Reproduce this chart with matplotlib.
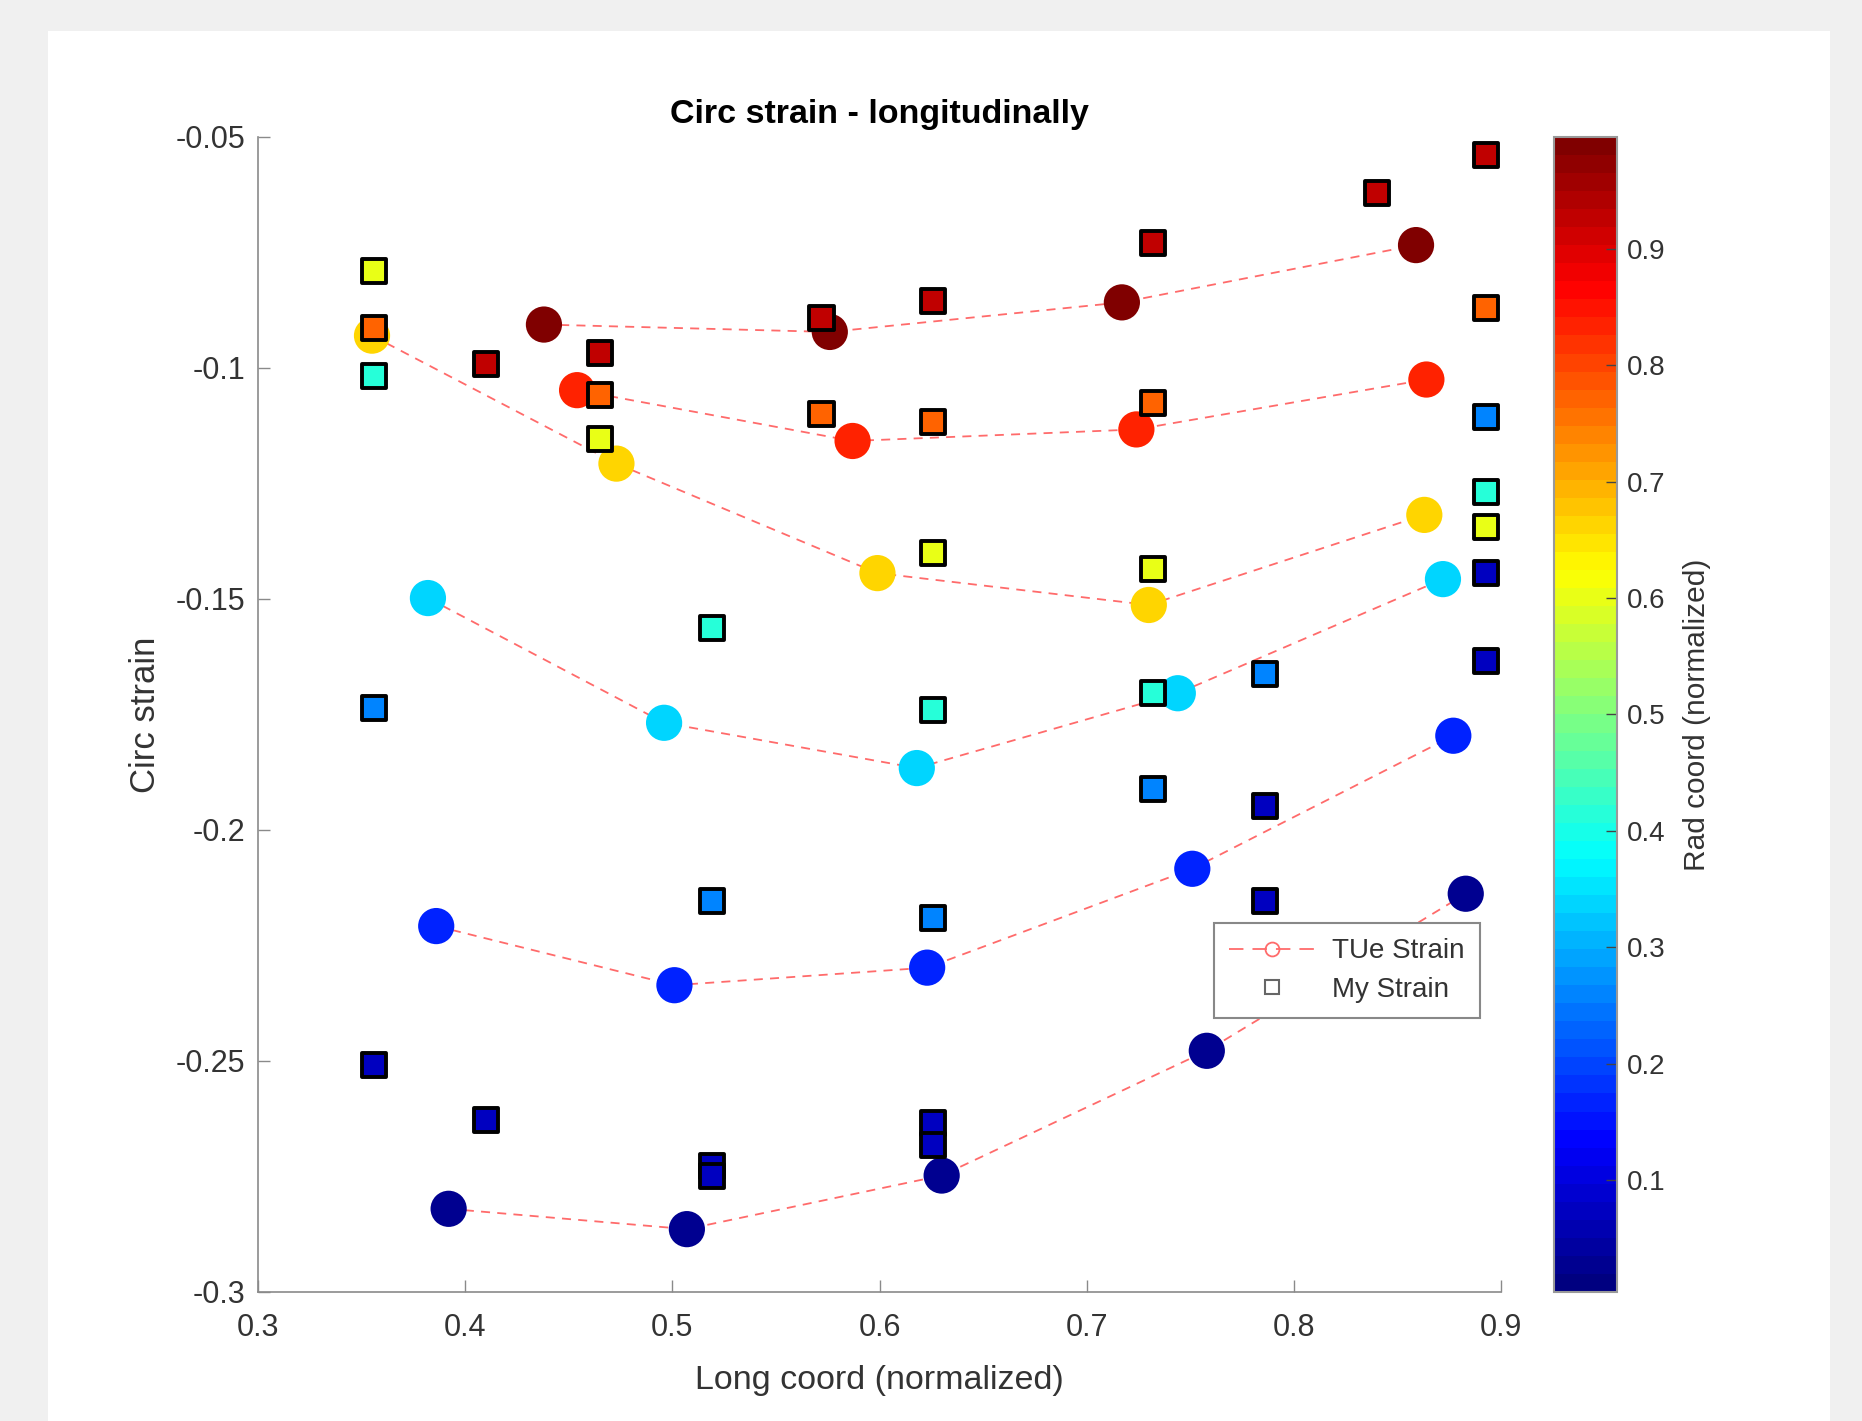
import matplotlib
matplotlib.use('Agg')
import matplotlib.pyplot as plt
from matplotlib.colors import Normalize, LinearSegmentedColormap
from matplotlib.cm import ScalarMappable
from matplotlib.lines import Line2D
from matplotlib.patches import Rectangle

plt.rcParams['font.family'] = ['Liberation Sans', 'DejaVu Sans']

# TUe strain: one dashed curve per radial level
tue_rad = [0.99, 0.84, 0.67, 0.33, 0.17, 0.02]
tue_long = [
    [0.438, 0.576, 0.717, 0.859],
    [0.454, 0.587, 0.724, 0.864],
    [0.355, 0.473, 0.599, 0.730, 0.863],
    [0.382, 0.496, 0.618, 0.744, 0.872],
    [0.386, 0.501, 0.623, 0.751, 0.877],
    [0.392, 0.507, 0.630, 0.758, 0.883],
]
tue_circ = [
    [-0.0906, -0.0922, -0.0858, -0.0734],
    [-0.1048, -0.1158, -0.1133, -0.1025],
    [-0.0930, -0.1207, -0.1444, -0.1513, -0.1318],
    [-0.1498, -0.1768, -0.1866, -0.1704, -0.1457],
    [-0.2208, -0.2336, -0.2298, -0.2084, -0.1796],
    [-0.2820, -0.2864, -0.2748, -0.2478, -0.2138],
]

# my strain, grouped by longitudinal slice
my_long = [0.356] * 5 + [0.410] * 2 + [0.465] * 3 + [0.519] * 4 + [0.572] * 2 \
    + [0.626] * 7 + [0.732] * 5 + [0.786] * 3 + [0.840] * 1 + [0.893] * 7
my_circ = [
    -0.0791, -0.0914, -0.1017, -0.1735, -0.2509,
    -0.0991, -0.2627,
    -0.0968, -0.1058, -0.1153,
    -0.1562, -0.2154, -0.2727, -0.2748,
    -0.0891, -0.1099,
    -0.0855, -0.1117, -0.1400, -0.1740, -0.2190, -0.2635, -0.2681,
    -0.0729, -0.1076, -0.1436, -0.1704, -0.1912,
    -0.1663, -0.1948, -0.2154,
    -0.0621,
    -0.0539, -0.0870, -0.1107, -0.1269, -0.1344, -0.1444, -0.1634,
]
my_rad = [
    0.595, 0.765, 0.42, 0.265, 0.08,
    0.92, 0.08,
    0.92, 0.765, 0.595,
    0.42, 0.265, 0.08, 0.08,
    0.92, 0.765,
    0.92, 0.765, 0.595, 0.42, 0.265, 0.08, 0.08,
    0.92, 0.765, 0.595, 0.42, 0.265,
    0.265, 0.08, 0.08,
    0.92,
    0.92, 0.765, 0.265, 0.42, 0.595, 0.08, 0.08,
]

cbar_ticks = [0.1, 0.2, 0.3, 0.4, 0.5, 0.6, 0.7, 0.8, 0.9]

# MATLAB-style jet, 64 levels
jet_ml = LinearSegmentedColormap.from_list('jet_ml', [
    (0.0, (0, 0, 0.5)), (0.125, (0, 0, 1)), (0.375, (0, 1, 1)),
    (0.625, (1, 1, 0)), (0.875, (1, 0, 0)), (1.0, (0.5, 0, 0))], N=64)
norm = Normalize(0.004, 0.996)
line_col = '#ff6b6b'
grey = '#333333'

fig = plt.figure(figsize=(18.62, 14.21), dpi=100, facecolor='#f0f0f0')
fig.patches.append(Rectangle((48 / 1862, 0), 1782 / 1862, 1390 / 1421,
                             transform=fig.transFigure, facecolor='white',
                             edgecolor='none', zorder=-10))

ax = fig.add_axes([0.1386, 0.0908, 0.6675, 0.8128])
ax.set_facecolor('white')

for xs, ys, r in zip(tue_long, tue_circ, tue_rad):
    ax.plot(xs, ys, color=line_col, lw=1.3, linestyle=(0, (5, 4)), zorder=1)
    ax.scatter(xs, ys, s=680, c=[r] * len(xs), cmap=jet_ml, norm=norm,
               linewidths=0, zorder=2)

ax.scatter(my_long, my_circ, s=300, marker='s', c=my_rad, cmap=jet_ml, norm=norm,
           edgecolors='black', linewidths=2.8, zorder=3)

ax.set_xlim(0.3, 0.9)
ax.set_ylim(-0.3, -0.05)
ax.set_xticks([0.3, 0.4, 0.5, 0.6, 0.7, 0.8, 0.9])
ax.set_xticklabels(['0.3', '0.4', '0.5', '0.6', '0.7', '0.8', '0.9'])
ax.set_yticks([-0.3, -0.25, -0.2, -0.15, -0.1, -0.05])
ax.set_yticklabels(['-0.3', '-0.25', '-0.2', '-0.15', '-0.1', '-0.05'])
ax.spines['top'].set_visible(False)
ax.spines['right'].set_visible(False)
for s in ['left', 'bottom']:
    ax.spines[s].set_color('#8a8a8a')
    ax.spines[s].set_linewidth(1.2)
ax.tick_params(direction='in', length=8.5, width=1, color='#8a8a8a',
               labelsize=22, labelcolor=grey, pad=9)
ax.tick_params(axis='x', pad=15)

ax.set_title('Circ strain - longitudinally', fontsize=24.5, fontweight='bold',
             color='black', pad=10)
ax.set_xlabel('Long coord (normalized)', fontsize=24.5, color=grey)
ax.xaxis.set_label_coords(0.5, -0.063)
ax.set_ylabel('Circ strain', fontsize=25, color=grey)
ax.yaxis.set_label_coords(-0.077, 0.5)

handles = [
    Line2D([], [], color=line_col, lw=1.3, linestyle=(0, (8, 5)), marker='o',
           mfc='none', mec=line_col, ms=10, mew=1.3),
    Line2D([], [], linestyle='none', marker='s', mfc='none', mec='#666666',
           ms=10, mew=1.5),
]
leg = ax.legend(handles, ['TUe Strain', 'My Strain'], loc='upper left',
                bbox_to_anchor=(0.769, 0.3195), borderaxespad=0, fontsize=20,
                handlelength=3.1, handletextpad=0.6, borderpad=0.55,
                labelspacing=0.45, fancybox=False, framealpha=1)
leg.get_frame().set_edgecolor('#888888')
leg.get_frame().set_linewidth(1.5)
for t in leg.get_texts():
    t.set_color(grey)
leg.set_zorder(5)

cax = fig.add_axes([0.8346, 0.0908, 0.0338, 0.8128])
sm = ScalarMappable(norm=norm, cmap=jet_ml)
cbar = fig.colorbar(sm, cax=cax, ticks=cbar_ticks)
cbar.ax.set_yticklabels([str(t) for t in cbar_ticks])
cbar.outline.set_edgecolor('#999999')
cbar.outline.set_linewidth(1.5)
cbar.ax.tick_params(direction='in', length=8, width=1, color='#444444',
                    labelsize=20, labelcolor=grey, pad=7)
cbar.set_label('Rad coord (normalized)', fontsize=21.5, color=grey)
cbar.ax.yaxis.set_label_coords(2.05, 0.5)

fig.savefig('out.png', dpi=100, facecolor=fig.get_facecolor())
